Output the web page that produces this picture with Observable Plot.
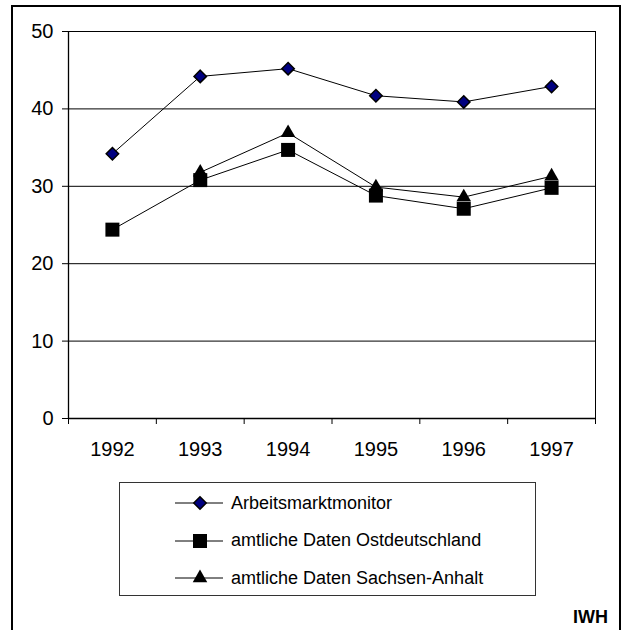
<!DOCTYPE html>
<html><head><meta charset="utf-8">
<script src="https://cdn.jsdelivr.net/npm/d3@7"></script>
<script src="https://cdn.jsdelivr.net/npm/@observablehq/plot@0.6"></script>
<style>
body{margin:0;background:#fff;}
#wrap{position:relative;width:626px;height:630px;overflow:hidden;font-family:"Liberation Sans",Arial,sans-serif;color:#000;}
#wrap svg.plot{position:absolute;left:0;top:0;}
#frame{position:absolute;left:11px;top:5px;width:610px;height:660px;border:2px solid #000;box-sizing:border-box;}
#legend{position:absolute;left:119px;top:482px;width:417px;height:114px;border:1px solid #333;box-sizing:border-box;background:#fff;}
.row{position:absolute;left:55px;height:24px;display:flex;align-items:center;font-size:18px;white-space:nowrap;}
.row svg{display:block;margin-right:1px;}
#iwh{position:absolute;right:18px;top:607px;font-weight:bold;font-size:18px;}
</style>
</head><body>
<div id="wrap"><div id="frame"></div></div>
<script>
const years = [1992, 1993, 1994, 1995, 1996, 1997];
const monitor = [34.2, 44.2, 45.2, 41.7, 40.9, 42.9];
const ostdeutschland = [24.4, 30.8, 34.7, 28.8, 27.1, 29.8];
const sachsenAnhalt = [null, 31.8, 36.9, 29.9, 28.6, 31.3];
const yTicks = [0, 10, 20, 30, 40, 50];
const seriesNames = ["Arbeitsmarktmonitor", "amtliche Daten Ostdeutschland", "amtliche Daten Sachsen-Anhalt"];
const sourceLabel = "IWH";

const seriesValues = [monitor, ostdeutschland, sachsenAnhalt];
const styles = [
  {symbol: "diamond2", r: 5.6, fill: "#000080", stroke: "#000", strokeWidth: 1.5, d3sym: d3.symbolDiamond2},
  {symbol: "square", r: 7.9, fill: "#000", stroke: "none", strokeWidth: 0, d3sym: d3.symbolSquare},
  {symbol: "triangle", r: 5.4, fill: "#000", stroke: "none", strokeWidth: 0, d3sym: d3.symbolTriangle}
];
const rows = seriesNames.map((name, s) => years.map((year, i) => ({series: name, year, value: seriesValues[s][i]})));
const boundaries = [years[0] - 0.5, ...years.map(y => y + 0.5)];

const marks = [
  Plot.ruleY(yTicks.filter(d => d > 0), {stroke: "#000", strokeWidth: 1}),
  Plot.ruleX([boundaries[boundaries.length - 1]], {stroke: "#000", strokeWidth: 1}),
  Plot.ruleX([boundaries[0]], {stroke: "#000", strokeWidth: 1.3}),
  Plot.ruleY([0], {stroke: "#000", strokeWidth: 1.6}),
  Plot.axisY({ticks: yTicks, tickSize: 6, tickPadding: 9, label: null, fontSize: 20, tickFormat: d => String(d)}),
  Plot.axisX({ticks: boundaries, tickSize: 6, tickFormat: () => "", label: null}),
  Plot.axisX({ticks: years, tickSize: 0, tickPadding: 23, fontSize: 20, tickFormat: d => String(d), label: null})
];
rows.forEach((data) => {
  marks.push(Plot.line(data, {x: "year", y: "value", stroke: "#000", strokeWidth: 1}));
});
rows.forEach((data, s) => {
  const st = styles[s];
  marks.push(Plot.dot(data.filter(d => d.value != null), {x: "year", y: "value", symbol: () => st.symbol, r: st.r, fill: st.fill, stroke: st.stroke, strokeWidth: st.strokeWidth}));
});

const chart = Plot.plot({
  width: 626, height: 630,
  marginLeft: 68, marginRight: 31, marginTop: 31, marginBottom: 212,
  x: {domain: [boundaries[0], boundaries[boundaries.length - 1]]},
  y: {domain: [yTicks[0], yTicks[yTicks.length - 1]]},
  symbol: {type: "identity"},
  style: {fontFamily: "'Liberation Sans', Arial, sans-serif", fontSize: "18px", background: "transparent", color: "#000", overflow: "visible"},
  marks
});
chart.classList.add("plot");
const wrap = document.getElementById("wrap");
wrap.appendChild(chart);

const legend = document.createElement("div");
legend.id = "legend";
seriesNames.forEach((name, s) => {
  const st = styles[s];
  const row = document.createElement("div");
  row.className = "row";
  row.style.top = (8 + s * 37.5) + "px";
  const size = Math.PI * st.r * st.r;
  const path = d3.symbol(st.d3sym, size)();
  row.innerHTML = `<svg width="55" height="24"><line x1="0" x2="48" y1="12" y2="12" stroke="#000" stroke-width="1"/><path transform="translate(25,12)" d="${path}" fill="${st.fill}" stroke="${st.stroke}" stroke-width="${st.strokeWidth}"/></svg><span>${name}</span>`;
  legend.appendChild(row);
});
wrap.appendChild(legend);
const iwh = document.createElement("div");
iwh.id = "iwh";
iwh.textContent = sourceLabel;
wrap.appendChild(iwh);
</script>
</body></html>
